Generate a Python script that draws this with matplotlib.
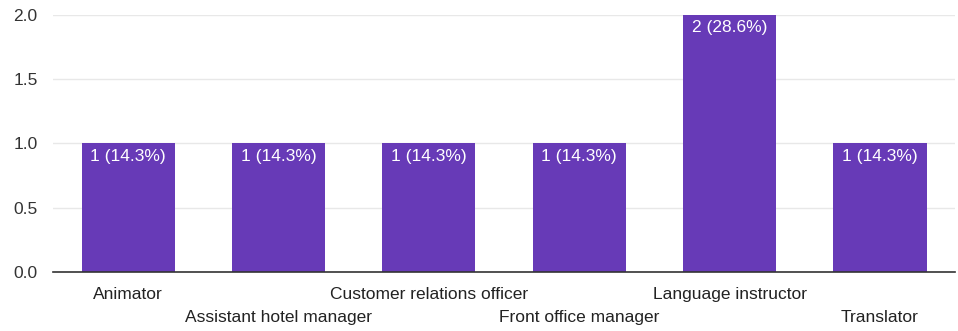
import matplotlib
matplotlib.use("Agg")
import matplotlib.pyplot as plt

categories = ["Animator", "Assistant hotel manager", "Customer relations officer",
              "Front office manager", "Language instructor", "Translator"]
counts = [1, 1, 1, 1, 2, 1]
percents = [14.3, 14.3, 14.3, 14.3, 28.6, 14.3]
yticks = [0.0, 0.5, 1.0, 1.5, 2.0]

plt.rcParams['font.family'] = ['Liberation Sans', 'DejaVu Sans']

fig = plt.figure(figsize=(9.58, 3.31), dpi=100)
ax = fig.add_axes([0.0553, 0.178, 0.9417, 0.777])

x = list(range(len(categories)))
ax.bar(x, counts, width=0.62, color="#673AB7", zorder=3)

for xi, c, p in zip(x, counts, percents):
    ax.annotate(f"{c} ({p}%)", xy=(xi, c), xytext=(0, -4), textcoords="offset points",
                ha="center", va="top", color="white", fontsize=12.5, zorder=4)

ax.set_xlim(-0.5, len(categories) - 0.5)
ax.set_ylim(0, 2.0)
ax.set_yticks(yticks)
ax.set_yticklabels([f"{t:.1f}" for t in yticks])
ax.grid(axis="y", color="#e8e8e8", linewidth=1, zorder=0)
ax.set_xticks(x)
ax.set_xticklabels([])
for i, (xi, c) in enumerate(zip(x, categories)):
    off = -33 if i % 2 == 1 else -16.5
    ax.annotate(c, xy=(xi, 0), xytext=(0, off), textcoords="offset points",
                ha="center", va="center", fontsize=12.5, color="#222222",
                annotation_clip=False)
ax.tick_params(axis="y", labelsize=12.5, labelcolor="#333333", length=0, pad=11)
ax.tick_params(axis="x", length=0)
for s in ["top", "right", "left"]:
    ax.spines[s].set_visible(False)
ax.spines["bottom"].set_color("#333333")
ax.spines["bottom"].set_linewidth(1.2)
ax.spines["bottom"].set_zorder(5)

fig.savefig("out.png", dpi=100)
